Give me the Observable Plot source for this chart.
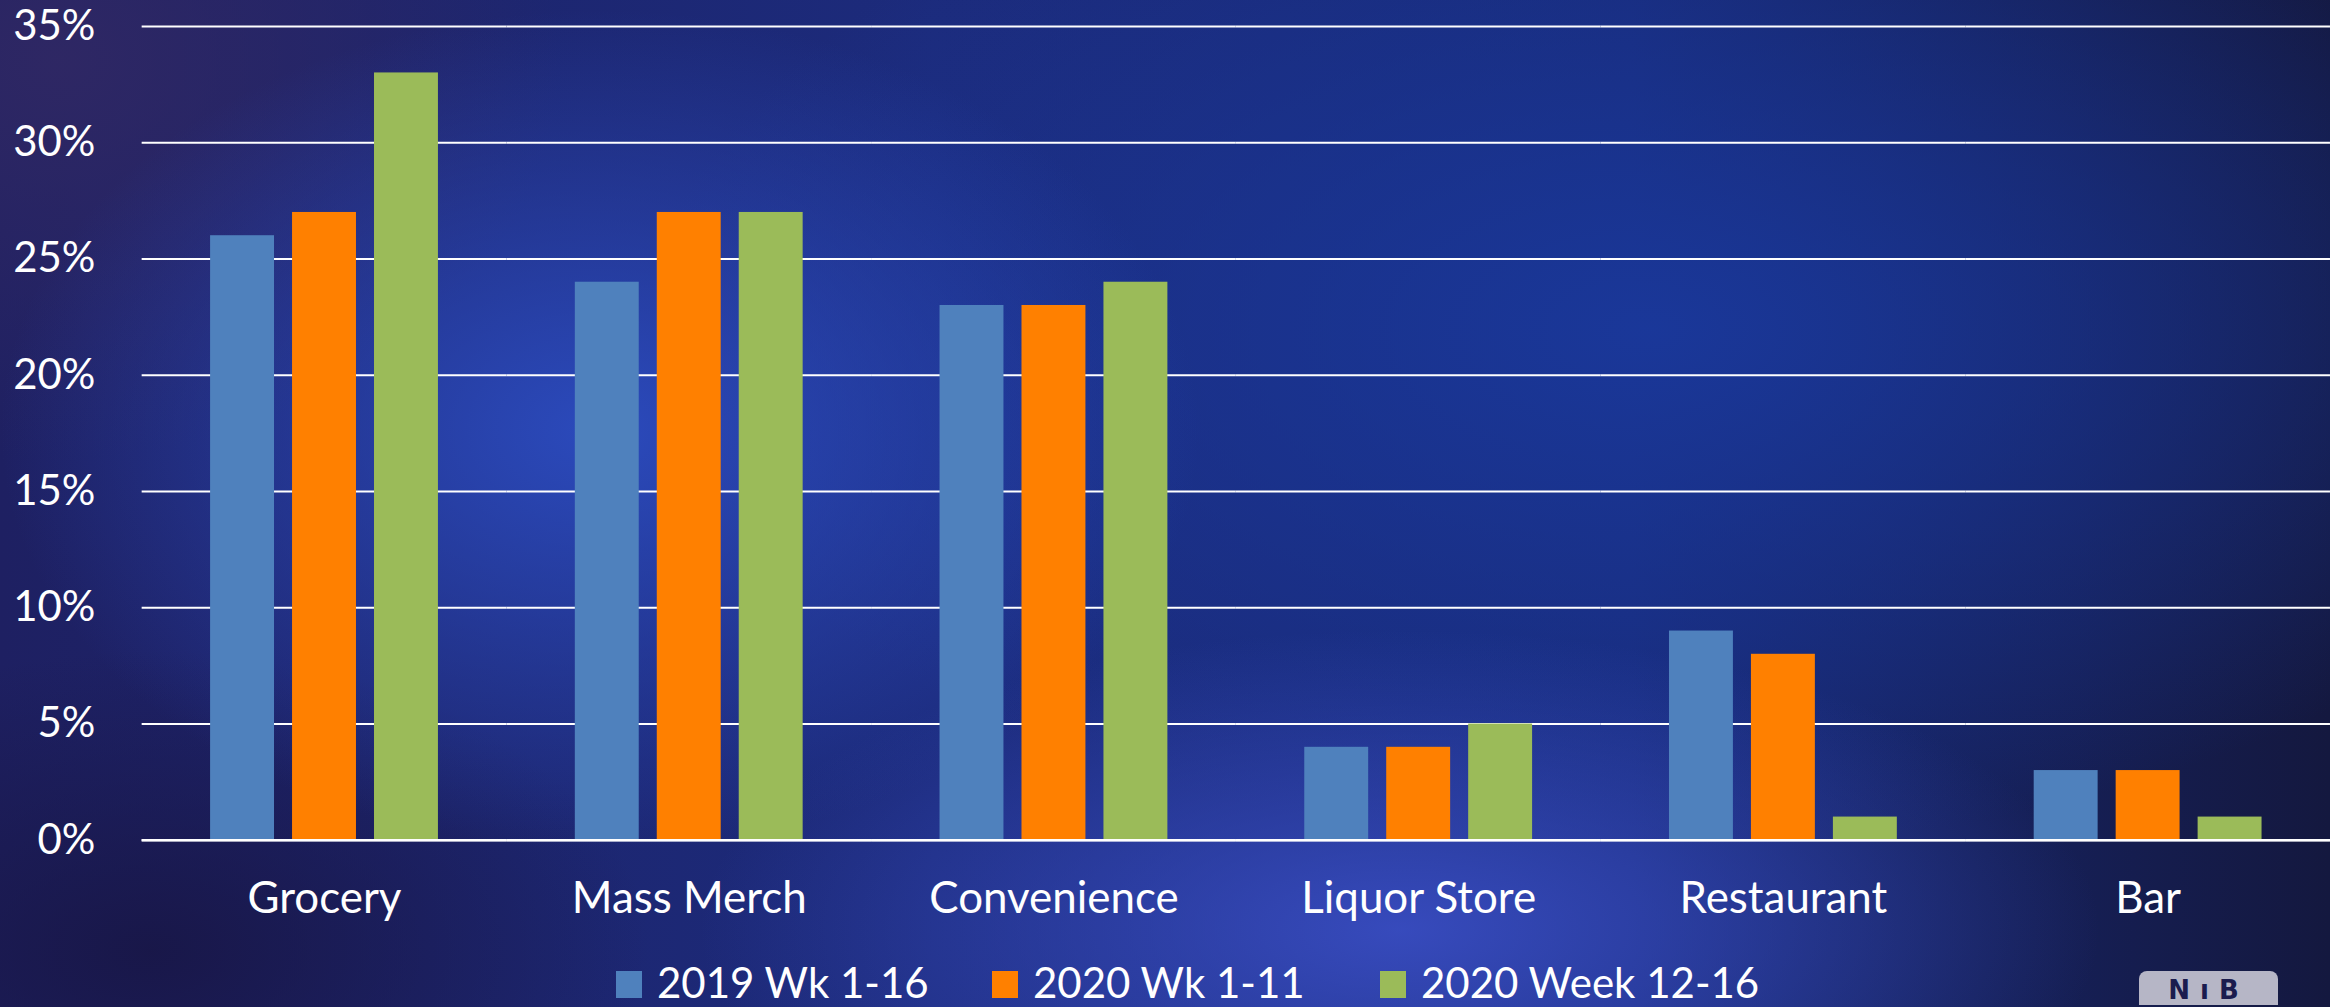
<!DOCTYPE html>
<html>
<head>
<meta charset="utf-8">
<script src="https://cdn.jsdelivr.net/npm/d3@7"></script>
<script src="https://cdn.jsdelivr.net/npm/@observablehq/plot@0.6"></script>
<style>
  html, body { margin: 0; padding: 0; }
  body {
    width: 2330px; height: 1007px; overflow: hidden; position: relative;
    font-family: Lato, "Open Sans", sans-serif; color: white;
    background-color: #18173f;
    background-image:
      radial-gradient(ellipse 600px 420px at 600px 430px, rgba(44,76,192,0.95), rgba(44,76,192,0) 100%),
      radial-gradient(ellipse 700px 300px at 1400px 930px, rgba(60,80,200,0.85), rgba(60,80,200,0) 100%),
      radial-gradient(ellipse 1000px 520px at 1650px 330px, rgba(26,56,155,0.95), rgba(26,56,155,0) 100%),
      radial-gradient(ellipse 500px 400px at 60px 60px, rgba(48,40,100,0.9), rgba(48,40,100,0) 100%),
      radial-gradient(ellipse 500px 300px at 150px 950px, rgba(24,22,70,0.9), rgba(24,22,70,0) 100%),
      linear-gradient(90deg, #1e2062 0%, #1c2b7c 40%, #182a78 70%, #14183f 100%);
  }
  #chart { width: 2330px; overflow: hidden; }
  #chart svg { display: block; }
  #legend {
    position: relative; height: 57px; display: flex; align-items: center;
    padding-left: 616px; box-sizing: border-box; font-size: 42px; line-height: 1;
    padding-top: 12px;
  }
  .item { display: flex; align-items: center; }
  .sw { width: 26px; height: 27px; margin-right: 15px; margin-top: 4px; }
  #logo {
    position: absolute; left: 2139px; top: 23px; width: 139px; height: 34px; overflow: hidden;
    background: #b6b6c6; border-radius: 8px 8px 0 0; color: #1b1c4e;
    font-family: "DejaVu Sans", sans-serif; font-weight: bold; font-size: 26px;
    line-height: 1; padding-top: 6px; box-sizing: border-box; text-align: center; letter-spacing: 10px;
  }
</style>
</head>
<body>
<div id="chart"></div>
<div id="legend"></div>
<script>
const categories = ["Grocery", "Mass Merch", "Convenience", "Liquor Store", "Restaurant", "Bar"];
const series = ["2019 Wk 1-16", "2020 Wk 1-11", "2020 Week 12-16"];
const values2019 = [0.26, 0.24, 0.23, 0.04, 0.09, 0.03];
const values2020a = [0.27, 0.27, 0.23, 0.04, 0.08, 0.03];
const values2020b = [0.33, 0.27, 0.24, 0.05, 0.01, 0.01];
const yTicks = [0, 0.05, 0.10, 0.15, 0.20, 0.25, 0.30, 0.35];
const colors = ["#4f81bd", "#ff8000", "#9bbb59"];

const seriesValues = [values2019, values2020a, values2020b];
const data = [];
categories.forEach((c, i) => {
  series.forEach((s, j) => data.push({category: c, series: s, value: seriesValues[j][i]}));
});

const chart = Plot.plot({
  width: 2336,
  height: 950,
  marginLeft: 142,
  marginRight: 0,
  marginTop: 26,
  marginBottom: 108,
  style: {background: "transparent", color: "white", fontFamily: "Lato, 'Open Sans', sans-serif", fontSize: "42px"},
  fx: {domain: categories, padding: 0, round: false, label: null},
  x: {domain: series, paddingInner: 0.22, paddingOuter: 0.835, round: false, axis: null},
  y: {domain: [0, 0.35], ticks: yTicks},
  color: {domain: series, range: colors},
  marks: [
    Plot.gridY(yTicks, {stroke: "white", strokeOpacity: 1, strokeWidth: 2}),
    Plot.barY(data, {fx: "category", x: "series", y: "value", fill: "series"}),
    Plot.ruleY([0], {stroke: "white", strokeWidth: 2.5}),
    Plot.axisY(yTicks, {tickSize: 0, tickPadding: 47, tickFormat: d3.format(".0%"), label: null, fontSize: 42, fill: "white"}),
    Plot.axisFx({anchor: "bottom", tickSize: 0, tickPadding: 42, label: null, fontSize: 44, fill: "white"})
  ]
});
document.getElementById("chart").appendChild(chart);

const legend = document.getElementById("legend");
const widths = [376, 388, 420];
series.forEach((s, j) => {
  const item = document.createElement("div");
  item.className = "item";
  item.style.width = widths[j] + "px";
  const sw = document.createElement("span");
  sw.className = "sw";
  sw.style.background = colors[j];
  const t = document.createElement("span");
  t.textContent = s;
  item.appendChild(sw);
  item.appendChild(t);
  legend.appendChild(item);
});
const logo = document.createElement("div");
logo.id = "logo";
logo.textContent = "N\u0131B";
legend.appendChild(logo);
</script>
</body>
</html>
